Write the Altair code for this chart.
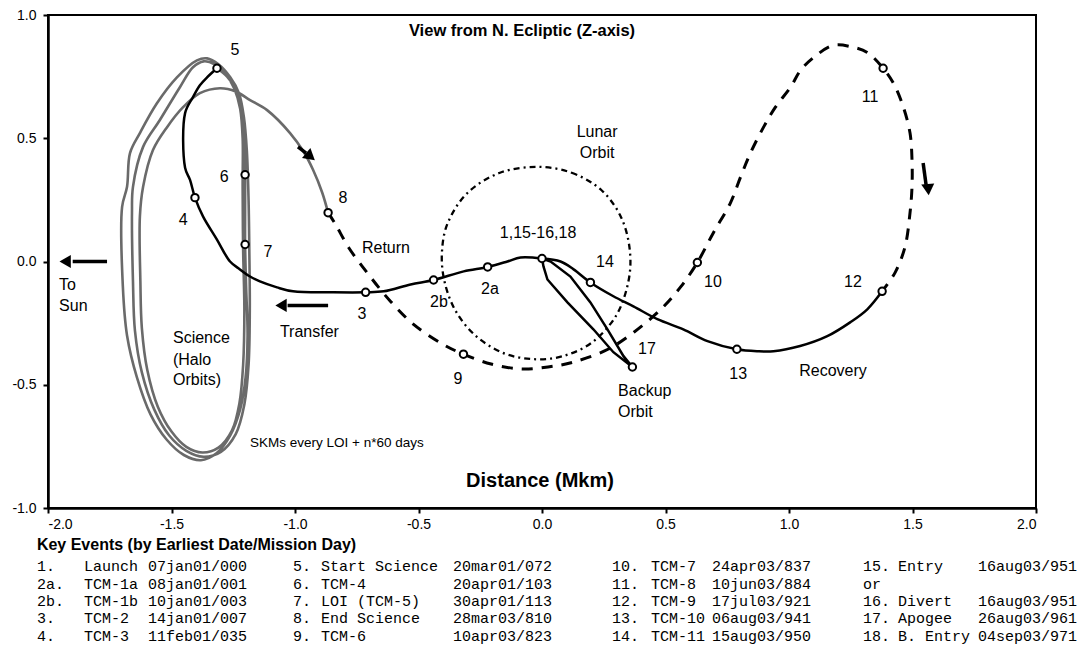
import altair as alt
import pandas as pd

# ---------------- data (Mkm) ----------------
transfer_x = [0.000, -0.087, -0.140, -0.220, -0.317, -0.439, -0.532, -0.641, -0.714, -0.846, -1.008,
              -1.073, -1.142, -1.182, -1.223, -1.263, -1.316, -1.372, -1.405, -1.425, -1.445, -1.445,
              -1.413, -1.385, -1.356, -1.316]
transfer_y = [0.012, 0.016, 0.000, -0.022, -0.040, -0.075, -0.093, -0.121, -0.125, -0.125, -0.121,
              -0.105, -0.081, -0.061, -0.032, 0.000, 0.089, 0.182, 0.259, 0.331, 0.380, 0.602,
              0.667, 0.715, 0.747, 0.784]

halo_x = [-1.316, -1.275, -1.240, -1.215, -1.205, -1.202, -1.202, -1.202, -1.198, -1.192, -1.200,
          -1.222, -1.262, -1.318, -1.381, -1.450, -1.520, -1.585, -1.640, -1.680, -1.697, -1.700,
          -1.680, -1.668, -1.628, -1.559, -1.478, -1.397, -1.356, -1.310, -1.262, -1.227, -1.207,
          -1.195,
          -1.188, -1.185, -1.183, -1.188, -1.205, -1.240, -1.300, -1.370, -1.440, -1.510, -1.570,
          -1.620, -1.648, -1.656, -1.660, -1.656, -1.615, -1.547, -1.466, -1.413, -1.370, -1.325,
          -1.280, -1.245, -1.222, -1.212,
          -1.212, -1.210, -1.205, -1.210, -1.225, -1.255, -1.310, -1.375, -1.440, -1.500, -1.555,
          -1.598, -1.620, -1.626, -1.628, -1.615, -1.575, -1.518, -1.453, -1.385, -1.304, -1.240,
          -1.182, -1.113, -1.020, -0.965, -0.927, -0.890, -0.866]
halo_y = [0.784, 0.750, 0.700, 0.620, 0.500, 0.352, 0.200, 0.069, -0.100, -0.300, -0.470,
          -0.600, -0.705, -0.778, -0.806, -0.785, -0.722, -0.620, -0.470, -0.300, -0.100, 0.222,
          0.303, 0.440, 0.521, 0.642, 0.747, 0.816, 0.824, 0.800, 0.747, 0.683, 0.586,
          0.450,
          0.250, 0.050, -0.200, -0.420, -0.580, -0.700, -0.772, -0.792, -0.768, -0.705, -0.600,
          -0.450, -0.280, -0.080, 0.198, 0.303, 0.465, 0.574, 0.707, 0.788, 0.812, 0.800,
          0.760, 0.700, 0.620, 0.500,
          0.300, 0.050, -0.200, -0.420, -0.575, -0.685, -0.755, -0.775, -0.752, -0.690, -0.590,
          -0.440, -0.270, -0.080, 0.182, 0.303, 0.452, 0.545, 0.626, 0.683, 0.703, 0.690,
          0.655, 0.614, 0.521, 0.445, 0.372, 0.280, 0.198]

return_x = [-0.866, -0.835, -0.783, -0.702, -0.613, -0.520, -0.403, -0.318, -0.206, -0.085, 0.024,
            0.128, 0.267, 0.372, 0.481, 0.563, 0.629, 0.694, 0.763, 0.804, 0.844, 0.897, 0.945,
            1.006, 1.047, 1.100, 1.180, 1.260, 1.317, 1.381, 1.423, 1.463, 1.490, 1.498, 1.498,
            1.490, 1.470, 1.430, 1.377]
return_y = [0.198, 0.149, 0.057, -0.053, -0.162, -0.255, -0.335, -0.376, -0.416, -0.436, -0.428,
            -0.408, -0.356, -0.287, -0.194, -0.101, -0.004, 0.117, 0.238, 0.343, 0.440, 0.545, 0.626,
            0.707, 0.776, 0.828, 0.877, 0.869, 0.848, 0.784, 0.723, 0.626, 0.521, 0.412, 0.303,
            0.198, 0.061, -0.044, -0.121]

recovery_x = [1.377, 1.317, 1.249, 1.155, 1.045, 0.937, 0.872, 0.789, 0.670, 0.572, 0.467, 0.370,
              0.289, 0.196, 0.128, 0.075, 0.000]
recovery_y = [-0.121, -0.194, -0.246, -0.303, -0.343, -0.364, -0.364, -0.356, -0.323, -0.275,
              -0.234, -0.182, -0.141, -0.085, -0.032, 0.000, 0.012]

backup_x = [0.000, 0.006, 0.022, 0.103, 0.208, 0.289, 0.366, 0.330, 0.265, 0.196, 0.115, 0.035, 0.000]
backup_y = [0.012, -0.020, -0.073, -0.166, -0.275, -0.368, -0.428, -0.384, -0.275, -0.166, -0.061,
            0.000, 0.012]

lunar_x = [-0.020, 0.120, 0.240, 0.320, 0.355, 0.350, 0.300, 0.200, 0.080, -0.040, -0.160, -0.270,
           -0.350, -0.395, -0.405, -0.380, -0.300, -0.170]
lunar_y = [0.384, 0.360, 0.290, 0.180, 0.050, -0.080, -0.220, -0.330, -0.385, -0.396, -0.370,
           -0.300, -0.200, -0.080, 0.040, 0.160, 0.280, 0.360]

event_x = [0.000, -0.220, -0.439, -0.714, -1.405, -1.316, -1.202, -1.202, -0.866, -0.318, 0.629,
           1.381, 1.377, 0.789, 0.196, 0.366]
event_y = [0.012, -0.022, -0.075, -0.125, 0.259, 0.784, 0.352, 0.069, 0.198, -0.376, -0.004,
           0.784, -0.121, -0.356, -0.085, -0.428]

label_text = ["5", "6", "4", "7", "8", "3", "2b", "2a", "1,15-16,18", "14", "Lunar", "Orbit",
              "10", "11", "12", "13", "Recovery", "17", "9"]
label_x = [-1.243, -1.287, -1.453, -1.109, -0.806, -0.729, -0.417, -0.211, -0.016, 0.255, 0.223,
           0.223, 0.692, 1.328, 1.259, 0.794, 1.178, 0.425, -0.340]
label_y = [0.857, 0.343, 0.170, 0.040, 0.259, -0.214, -0.166, -0.113, 0.117, -0.004, 0.525,
           0.440, -0.085, 0.667, -0.085, -0.457, -0.444, -0.356, -0.477]

left_text = ["Return", "Backup", "Orbit", "Science", "(Halo", "Orbits)", "Transfer", "To", "Sun"]
left_x = [-0.729, 0.308, 0.308, -1.494, -1.494, -1.494, -1.061, -1.955, -1.955]
left_y = [0.053, -0.525, -0.610, -0.311, -0.400, -0.481, -0.287, -0.097, -0.182]

note_text = ["SKMs every LOI + n*60 days"]
note_x = [-1.182]
note_y = [-0.735]

arrow_x1 = [-1.761, -0.866, -0.988, 1.543]
arrow_y1 = [0.000, -0.178, 0.465, 0.400]
arrow_x2 = [-1.900, -1.030, -0.955, 1.555]
arrow_y2 = [0.000, -0.178, 0.440, 0.311]
head_x = [-1.923, -1.049, -0.943, 1.563]
head_y = [0.000, -0.178, 0.430, 0.299]
head_angle = [270, 270, 130, 175]

key_num = ["1.", "2a.", "2b.", "3.", "4.", "5.", "6.", "7.", "8.", "9.",
           "10.", "11.", "12.", "13.", "14.", "15.", "or", "16.", "17.", "18."]
key_name = ["Launch", "TCM-1a", "TCM-1b", "TCM-2", "TCM-3",
            "Start Science", "TCM-4", "LOI (TCM-5)", "End Science", "TCM-6",
            "TCM-7", "TCM-8", "TCM-9", "TCM-10", "TCM-11",
            "Entry", "", "Divert", "Apogee", "B. Entry"]
key_date = ["07jan01/000", "08jan01/001", "10jan01/003", "14jan01/007", "11feb01/035",
            "20mar01/072", "20apr01/103", "30apr01/113", "28mar03/810", "10apr03/823",
            "24apr03/837", "10jun03/884", "17jul03/921", "06aug03/941", "15aug03/950",
            "16aug03/951", "", "16aug03/951", "26aug03/961", "04sep03/971"]

# ---------------- layout of the key table (in axis units) ----------------
col_num = [-2.045, -1.008, 0.283, 1.300]
col_name = [-1.854, -0.895, 0.441, 1.441]
col_date = [-1.595, -0.360, 0.688, 1.765]
row_y = [-1.236, -1.307, -1.378, -1.448, -1.519]
header_pos = (-2.045, -1.152)

SANS = "Liberation Sans"
MONO = "Liberation Mono"


def path(xs, ys):
    return pd.DataFrame({"x": xs, "y": ys, "i": list(range(len(xs)))})


xs = alt.Scale(domain=[-2, 2], nice=False, zero=False)
ys = alt.Scale(domain=[-1, 1], nice=False, zero=False)
fix_minus = "replace(datum.label, '\u2212', '-')"
X = alt.X("x:Q", scale=xs, title=None,
          axis=alt.Axis(values=[-2, -1.5, -1, -0.5, 0, 0.5, 1, 1.5, 2], format=".1f",
                        labelExpr=fix_minus, grid=False, labelFont=SANS, labelFontSize=14,
                        labelColor="black", domainColor="black", domainWidth=2.5,
                        tickColor="black", tickWidth=2, tickSize=5, labelPadding=4))
Y = alt.Y("y:Q", scale=ys, title=None,
          axis=alt.Axis(values=[-1, -0.5, 0, 0.5, 1], format=".1f", labelExpr=fix_minus,
                        grid=False, labelFont=SANS, labelFontSize=14, labelColor="black",
                        domainColor="black", domainWidth=2.5, tickColor="black", tickWidth=2,
                        tickSize=5, labelPadding=7))


def line(xs_, ys_, **kw):
    return alt.Chart(path(xs_, ys_)).mark_line(**kw).encode(x=X, y=Y, order="i:Q")


lunar = line(lunar_x, lunar_y, color="black", strokeWidth=2.3, interpolate="cardinal-closed",
             strokeDash=[6, 4, 2, 4])
halo = line(halo_x, halo_y, color="#6a6a6a", strokeWidth=2.6, interpolate="catmull-rom")
transfer = line(transfer_x, transfer_y, color="black", strokeWidth=2.5, interpolate="catmull-rom")
ret = line(return_x, return_y, color="black", strokeWidth=3, interpolate="catmull-rom",
           strokeDash=[11, 9])
recovery = line(recovery_x, recovery_y, color="black", strokeWidth=2.5, interpolate="catmull-rom")
backup = line(backup_x, backup_y, color="black", strokeWidth=2.5, interpolate="linear")

events = alt.Chart(pd.DataFrame({"x": event_x, "y": event_y})).mark_point(
    shape="circle", filled=True, fill="white", stroke="black", strokeWidth=2, size=55, opacity=1
).encode(x=X, y=Y)

shafts = alt.Chart(pd.DataFrame({"x": arrow_x1, "y": arrow_y1, "x2": arrow_x2, "y2": arrow_y2})
                   ).mark_rule(color="black", strokeWidth=3.5).encode(x=X, y=Y, x2="x2:Q", y2="y2:Q")
heads = alt.Chart(pd.DataFrame({"x": head_x, "y": head_y, "a": head_angle})).mark_point(
    shape="triangle", filled=True, color="black", size=170, opacity=1
).encode(x=X, y=Y, angle=alt.Angle("a:Q", scale=None))

labels = alt.Chart(pd.DataFrame({"x": label_x, "y": label_y, "t": label_text})).mark_text(
    font=SANS, fontSize=16, color="black", align="center", baseline="middle"
).encode(x=X, y=Y, text="t:N")
left_labels = alt.Chart(pd.DataFrame({"x": left_x, "y": left_y, "t": left_text})).mark_text(
    font=SANS, fontSize=16, color="black", align="left", baseline="middle"
).encode(x=X, y=Y, text="t:N")
note = alt.Chart(pd.DataFrame({"x": note_x, "y": note_y, "t": note_text})).mark_text(
    font=SANS, fontSize=13.5, color="black", align="left", baseline="middle"
).encode(x=X, y=Y, text="t:N")

title = alt.Chart(pd.DataFrame({"x": [-0.081], "y": [0.937],
                                "t": ["View from N. Ecliptic (Z-axis)"]})).mark_text(
    font=SANS, fontSize=16.5, fontWeight="bold", color="black", align="center", baseline="middle"
).encode(x=X, y=Y, text="t:N")
xtitle = alt.Chart(pd.DataFrame({"x": [-0.008], "y": [-0.889], "t": ["Distance (Mkm)"]})).mark_text(
    font=SANS, fontSize=20, fontWeight="bold", color="black", align="center", baseline="middle"
).encode(x=X, y=Y, text="t:N")
header = alt.Chart(pd.DataFrame({"x": [header_pos[0]], "y": [header_pos[1]],
                                 "t": ["Key Events (by Earliest Date/Mission Day)"]})).mark_text(
    font=SANS, fontSize=16, fontWeight="bold", color="black", align="left", baseline="middle"
).encode(x=X, y=Y, text="t:N")

rows = []
for k in range(len(key_num)):
    g, r = divmod(k, 5)
    for txt, cx in ((key_num[k], col_num[g]), (key_name[k], col_name[g]), (key_date[k], col_date[g])):
        if txt:
            rows.append({"x": cx, "y": row_y[r], "t": txt})
table = alt.Chart(pd.DataFrame(rows)).mark_text(
    font=MONO, fontSize=15, color="black", align="left", baseline="middle"
).encode(x=X, y=Y, text="t:N")

chart = alt.layer(
    lunar, halo, transfer, ret, recovery, backup, events, shafts, heads,
    labels, left_labels, note, title, xtitle, header, table
).properties(
    width=988, height=493,
    padding={"left": 40, "top": 7, "right": 47, "bottom": 137},
    autosize=alt.AutoSizeParams(type="none"),
    background="white",
).configure_view(stroke="black", strokeWidth=2)

chart.save("out.html", embed_options={"renderer": "svg", "actions": False})
